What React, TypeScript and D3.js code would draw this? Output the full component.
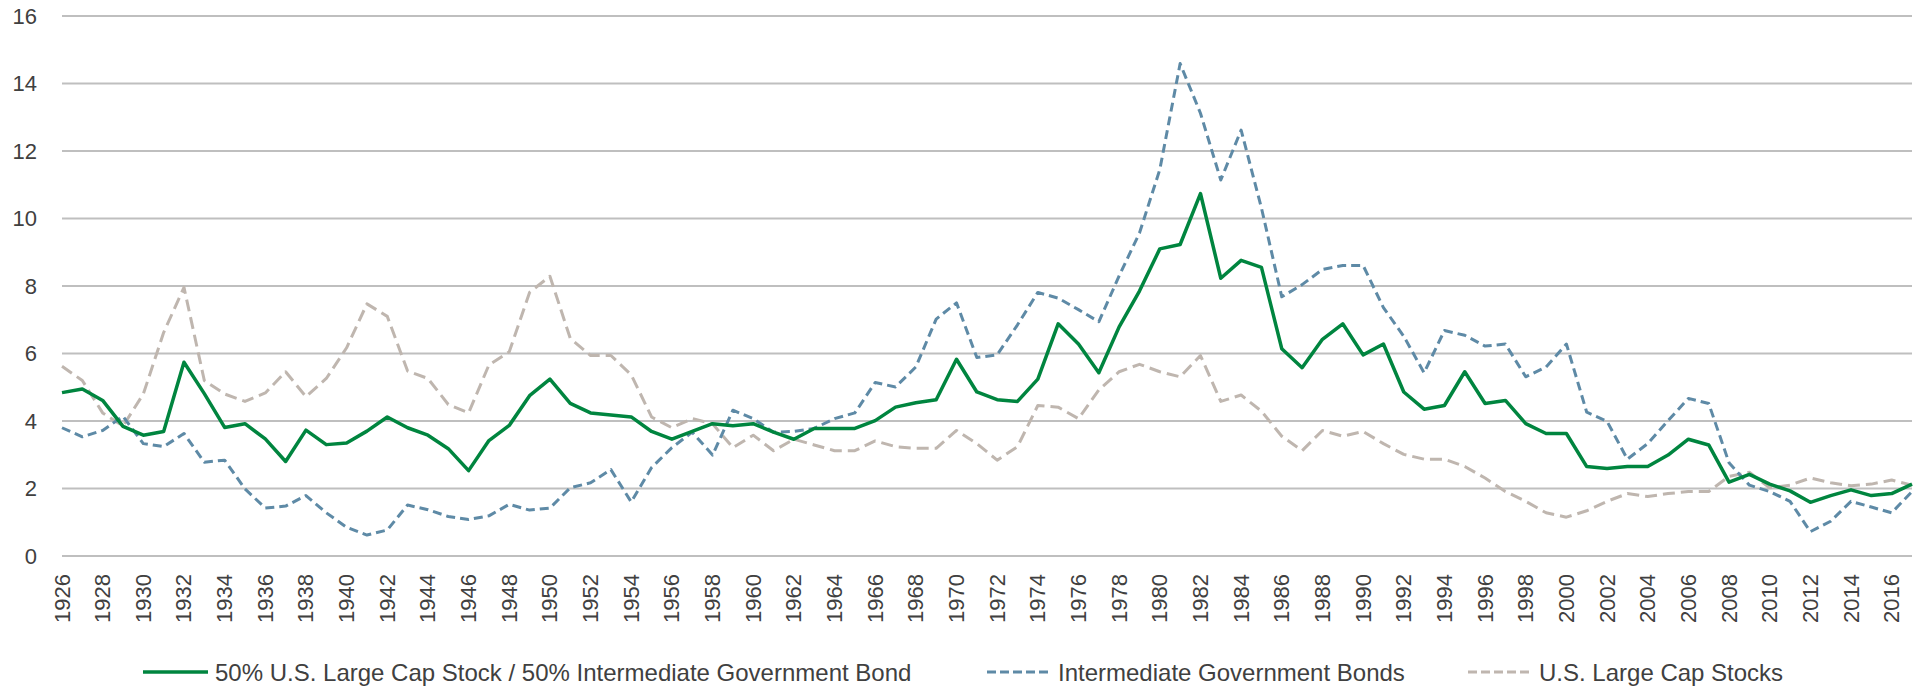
import * as d3 from 'd3';
import React from 'react';

// years 1926..2017
const startYear = 1926;
const endYear = 2017;

// 50% U.S. Large Cap Stock / 50% Intermediate Government Bond
const balanced = [
  4.84, 4.95, 4.61, 3.84, 3.58, 3.69, 5.74, 4.81, 3.81, 3.92,
  3.47, 2.80, 3.73, 3.30, 3.35, 3.70, 4.12, 3.80, 3.58, 3.18,
  2.53, 3.42, 3.87, 4.75, 5.24, 4.52, 4.24, 4.18, 4.12, 3.69,
  3.46, 3.69, 3.92, 3.86, 3.92, 3.67, 3.46, 3.78, 3.78, 3.78,
  4.01, 4.41, 4.54, 4.63, 5.83, 4.86, 4.63, 4.58, 5.24, 6.88,
  6.28, 5.43, 6.79, 7.85, 9.10, 9.23, 10.74, 8.23, 8.76, 8.55,
  6.14, 5.58, 6.42, 6.88, 5.96, 6.28, 4.86, 4.35, 4.46, 5.46,
  4.52, 4.61, 3.92, 3.63, 3.63, 2.65, 2.59, 2.65, 2.65, 2.99,
  3.46, 3.29, 2.19, 2.42, 2.13, 1.93, 1.59, 1.79, 1.96, 1.79,
  1.85, 2.13,
];

// Intermediate Government Bonds
const govBonds = [
  3.80, 3.53, 3.72, 4.14, 3.33, 3.24, 3.63, 2.78, 2.84, 1.99,
  1.42, 1.48, 1.79, 1.28, 0.85, 0.62, 0.77, 1.51, 1.37, 1.17,
  1.08, 1.19, 1.53, 1.36, 1.42, 2.02, 2.17, 2.56, 1.60, 2.62,
  3.21, 3.67, 2.99, 4.32, 4.07, 3.67, 3.69, 3.78, 4.07, 4.24,
  5.14, 5.01, 5.60, 7.02, 7.50, 5.88, 5.96, 6.85, 7.81, 7.64,
  7.30, 6.94, 8.30, 9.57, 11.45, 14.59, 13.12, 11.14, 12.62, 10.31,
  7.68, 8.04, 8.49, 8.61, 8.61, 7.36, 6.51, 5.43, 6.68, 6.54,
  6.22, 6.28, 5.31, 5.60, 6.28, 4.26, 3.99, 2.87, 3.33, 4.01,
  4.67, 4.52, 2.76, 2.10, 1.91, 1.62, 0.72, 1.03, 1.62, 1.45,
  1.28, 1.91,
];

// U.S. Large Cap Stocks
const largeCap = [
  5.62, 5.20, 4.24, 3.85, 4.80, 6.62, 7.96, 5.20, 4.80, 4.58,
  4.83, 5.46, 4.72, 5.26, 6.17, 7.47, 7.10, 5.48, 5.26, 4.49,
  4.24, 5.66, 6.05, 7.81, 8.29, 6.45, 5.94, 5.94, 5.37, 4.12,
  3.80, 4.07, 3.92, 3.21, 3.58, 3.12, 3.46, 3.29, 3.12, 3.12,
  3.41, 3.24, 3.19, 3.19, 3.72, 3.33, 2.84, 3.24, 4.46, 4.41,
  4.07, 4.92, 5.46, 5.68, 5.46, 5.31, 5.94, 4.58, 4.77, 4.29,
  3.55, 3.12, 3.72, 3.55, 3.69, 3.33, 3.01, 2.87, 2.87, 2.65,
  2.31, 1.91, 1.62, 1.28, 1.15, 1.34, 1.62, 1.85, 1.76, 1.85,
  1.91, 1.91, 2.36, 2.48, 2.02, 2.10, 2.31, 2.17, 2.08, 2.13,
  2.25, 2.10,
];

const yTicks = [0, 2, 4, 6, 8, 10, 12, 14, 16];
const xTicks = d3.range(1926, 2017, 2);

const seriesNames = [
  '50% U.S. Large Cap Stock / 50% Intermediate Government Bond',
  'Intermediate Government Bonds',
  'U.S. Large Cap Stocks',
];

const years = d3.range(startYear, endYear + 1);

export default function App() {
  const width = 1921;
  const height = 686;
  const left = 62;
  const right = 1912;
  const top = 16;
  const bottom = 556;
  const font = 'Liberation Sans, Arial, sans-serif';

  const x = d3.scaleLinear().domain([startYear, endYear]).range([left, right]);
  const y = d3.scaleLinear().domain([0, 16]).range([bottom, top]);

  const line = d3.line<number>()
    .x((d, i) => x(years[i]))
    .y(d => y(d));

  const series = [
    { name: seriesNames[0], data: balanced, color: '#00853F', width: 3.5, dash: null, lx: 143, tx: 215 },
    { name: seriesNames[1], data: govBonds, color: '#5E8AA6', width: 3, dash: '9 5', lx: 987, tx: 1058 },
    { name: seriesNames[2], data: largeCap, color: '#BFB6AF', width: 3, dash: '12 6', lx: 1468, tx: 1539 },
  ];

  return (
    <svg width={width} height={height} style={{ position: 'absolute', left: 0, top: 0, background: '#fff' }}
      fontFamily={font}>
      {/* grid + y labels */}
      {yTicks.map(t => (
        <g key={t}>
          <line x1={left} x2={right} y1={y(t)} y2={y(t)} stroke="#BFBFBF" strokeWidth={2} />
          <text x={37} y={y(t)} textAnchor="end" dominantBaseline="central" fontSize={22} fill="#404040">{t}</text>
        </g>
      ))}
      {/* x labels */}
      {xTicks.map(t => (
        <text key={t} transform={`translate(${x(t)},574) rotate(-90)`} textAnchor="end"
          dominantBaseline="central" fontSize={22} fill="#404040">{t}</text>
      ))}
      {/* lines, drawn back to front */}
      {[...series].reverse().map(s => (
        <path key={s.name} d={line(s.data) || ''} fill="none" stroke={s.color} strokeWidth={s.width}
          strokeDasharray={s.dash || undefined} strokeLinejoin="round" />
      ))}
      {/* legend */}
      {series.map(s => (
        <g key={'lg' + s.name}>
          <line x1={s.lx} x2={s.lx + 65} y1={672} y2={672} stroke={s.color} strokeWidth={s.width}
            strokeDasharray={s.dash ? '9 4' : undefined} />
          <text x={s.tx} y={672} dominantBaseline="central" fontSize={24} fill="#404040">{s.name}</text>
        </g>
      ))}
    </svg>
  );
}
